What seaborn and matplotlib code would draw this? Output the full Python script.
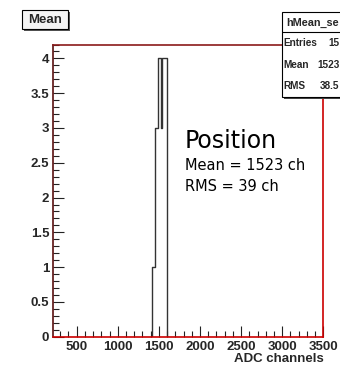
import matplotlib
matplotlib.use("Agg")
import matplotlib.pyplot as plt
import seaborn as sns
import numpy as np
from matplotlib.patches import Rectangle
from matplotlib.ticker import MultipleLocator

# ---- data ----
bin_edges = [1390, 1420, 1450, 1490, 1520, 1540, 1595, 1625]
bin_counts = [0, 1, 3, 4, 3, 4, 0]
bin_centers = [(a + b) / 2 for a, b in zip(bin_edges[:-1], bin_edges[1:])]
x_ticks = [500, 1000, 1500, 2000, 2500, 3000, 3500]
y_ticks = [0, 0.5, 1, 1.5, 2, 2.5, 3, 3.5, 4]
y_tick_labels = ["0", "0.5", "1", "1.5", "2", "2.5", "3", "3.5", "4"]
stats_title = "hMean_se"
stats_rows = [("Entries", "15"), ("Mean", "1523"), ("RMS", "38.5")]

sns.set_theme(style="white")
plt.rcParams["font.family"] = ["Liberation Sans", "DejaVu Sans"]

W, H = 340, 367
fig = plt.figure(figsize=(W / 100, H / 100), dpi=100)
fig.patch.set_facecolor("white")

def fx(px):
    return px / W

def fy(py):
    return 1 - py / H

ax = fig.add_axes([fx(53.3), fy(336.7), fx(323.3) - fx(53.3), fy(44.5) - fy(336.7)])
ax.set_facecolor("white")

sns.histplot(x=bin_centers, weights=bin_counts, bins=bin_edges, element="step",
             fill=False, color="#333333", linewidth=1.0, ax=ax)

ax.set_xlim(216, 3500)
ax.set_ylim(0, 4.2)
ax.set_xticks(x_ticks)
ax.set_xticklabels([str(t) for t in x_ticks])
ax.set_yticks(y_ticks)
ax.set_yticklabels(y_tick_labels)
ax.xaxis.set_minor_locator(MultipleLocator(100))
ax.yaxis.set_minor_locator(MultipleLocator(0.1))
ax.tick_params(which="both", direction="in", top=False, right=False,
               left=True, bottom=True, color="#222222", width=0.8)
ax.tick_params(which="major", length=8, labelsize=9.5, pad=3)
ax.tick_params(which="minor", length=4)
for lab in ax.get_xticklabels() + ax.get_yticklabels():
    lab.set_fontweight("bold")
ax.set_ylabel("")
ax.set_xlabel("ADC channels", fontsize=9.5, fontweight="bold", labelpad=2)
ax.xaxis.set_label_coords(1.0, -0.055)
ax.xaxis.label.set_horizontalalignment("right")

ax.spines["top"].set_color("#8b1a1a")
ax.spines["left"].set_color("#5a1010")
ax.spines["right"].set_color("#cc0000")
ax.spines["bottom"].set_color("#cc0000")
for s in ax.spines.values():
    s.set_linewidth(1.2)
    s.set_visible(True)

# annotation
fig.text(fx(185), fy(148), "Position", fontsize=17, family=["DejaVu Sans"],
         ha="left", va="baseline", color="black")
fig.text(fx(185), fy(170), "Mean = 1523 ch", fontsize=10.5, family=["DejaVu Sans"],
         ha="left", va="baseline", color="black")
fig.text(fx(185), fy(191), "RMS = 39 ch", fontsize=10.5, family=["DejaVu Sans"],
         ha="left", va="baseline", color="black")

# title box "Mean"
x0, y0, x1, y1 = 21.7, 10, 68.3, 29.3
fig.patches.append(Rectangle((fx(x0 + 2), fy(y1 + 2)), fx(x1 - x0), fy(y0) - fy(y1),
                             transform=fig.transFigure, facecolor="#555555",
                             edgecolor="none", zorder=4))
fig.patches.append(Rectangle((fx(x0), fy(y1)), fx(x1 - x0), fy(y0) - fy(y1),
                             transform=fig.transFigure, facecolor="#f4f4f4",
                             edgecolor="black", linewidth=0.8, zorder=5))
fig.text(fx((x0 + x1) / 2), fy((y0 + y1) / 2 + 0.5), "Mean", fontsize=9.5,
         fontweight="bold", ha="center", va="center", zorder=6)

# stats box
sx0, sy0, sx1, sy1 = 281.7, 12.3, 400, 96.7
fig.patches.append(Rectangle((fx(sx0 + 2), fy(sy1 + 2)), fx(sx1 - sx0), fy(sy0) - fy(sy1),
                             transform=fig.transFigure, facecolor="#444444",
                             edgecolor="none", zorder=4))
fig.patches.append(Rectangle((fx(sx0), fy(sy1)), fx(sx1 - sx0), fy(sy0) - fy(sy1),
                             transform=fig.transFigure, facecolor="white",
                             edgecolor="black", linewidth=0.8, zorder=5))
fig.add_artist(plt.Line2D([fx(sx0), fx(sx1)], [fy(32.3), fy(32.3)],
                          transform=fig.transFigure, color="black", linewidth=0.8, zorder=6))
fig.text(fx(286.5), fy(22.5), stats_title, fontsize=7.8, fontweight="bold",
         ha="left", va="center", zorder=6)
row_y = [43.5, 65, 86]
for (lbl, val), ry in zip(stats_rows, row_y):
    fig.text(fx(283.5), fy(ry), lbl, fontsize=7.2, fontweight="bold",
             ha="left", va="center", zorder=6)
    fig.text(fx(339.5), fy(ry), val, fontsize=7.2, fontweight="bold",
             ha="right", va="center", zorder=6)

fig.savefig("out.png", dpi=100, facecolor="white")
